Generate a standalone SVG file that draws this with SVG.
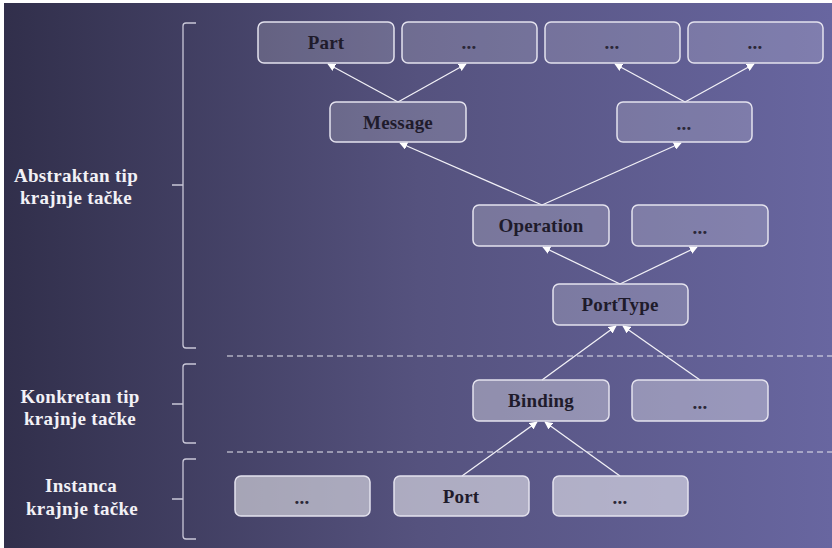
<svg xmlns="http://www.w3.org/2000/svg" width="832" height="548" viewBox="0 0 832 548" font-family="Liberation Serif, Times New Roman, serif">
  <defs>
    <linearGradient id="bg" x1="0" y1="0" x2="1" y2="0">
      <stop offset="0" stop-color="#312f4b"/>
      <stop offset="0.5" stop-color="#55527e"/>
      <stop offset="1" stop-color="#6866a0"/>
    </linearGradient>
    <marker id="arrow" viewBox="0 0 10 10" refX="9" refY="5" markerWidth="8" markerHeight="8" markerUnits="userSpaceOnUse" orient="auto">
      <path d="M0,0 L10,5 L0,10 Z" fill="#ffffff"/>
    </marker>
    <style>
      .node rect { stroke: #e4e2ee; stroke-width: 1.5; }
      .r1 rect { fill: #ffffff; fill-opacity: 0.16; }
      .r2 rect { fill: #ffffff; fill-opacity: 0.17; }
      .r3 rect { fill: #ffffff; fill-opacity: 0.2; }
      .r4 rect { fill: #ffffff; fill-opacity: 0.34; }
      .r5 rect { fill: #ffffff; fill-opacity: 0.52; }
      .node text { font-weight: bold; font-size: 19px; fill: #1f1b2b; text-anchor: middle; letter-spacing: 0.2px; }
      .node text.dots { fill: #2a2638; }
      .edge { stroke: #f2f1f7; stroke-width: 1.3; fill: none; marker-end: url(#arrow); }
      .sep { stroke: #e8e7f0; stroke-width: 1.2; stroke-dasharray: 6 4; }
      .brace { stroke: #c9c7d8; stroke-width: 1.3; fill: none; }
      .label { font-weight: bold; font-size: 19px; fill: #f2f1f6; text-anchor: middle; letter-spacing: 0.3px; }
    </style>
  </defs>

  <!-- background -->
  <rect x="0" y="0" width="832" height="548" fill="#ffffff"/>
  <rect x="4" y="3" width="828" height="545" fill="url(#bg)"/>

  <!-- layer separators -->
  <line class="sep" x1="227" y1="356" x2="832" y2="356"/>
  <line class="sep" x1="227" y1="452" x2="832" y2="452"/>

  <!-- layer brackets -->
  <path class="brace" d="M196,23 H186 Q183,23 183,26 V345 Q183,348 186,348 H196 M183,185 H172"/>
  <path class="brace" d="M196,364 H186 Q183,364 183,367 V440 Q183,443 186,443 H196 M183,404 H172"/>
  <path class="brace" d="M196,459 H186 Q183,459 183,462 V536 Q183,539 186,539 H196 M183,499 H172"/>

  <!-- layer labels -->
  <g font-family="Liberation Serif, serif">
    <text class="label" x="76" y="182">Abstraktan tip</text>
    <text class="label" x="76" y="204">krajnje tačke</text>
    <text class="label" x="80" y="403">Konkretan tip</text>
    <text class="label" x="80" y="425">krajnje tačke</text>
    <text class="label" x="81" y="492">Instanca</text>
    <text class="label" x="82" y="515">krajnje tačke</text>
  </g>

  <!-- connectors -->
  <g id="connectors">
    <line class="edge" x1="398" y1="102" x2="328" y2="64"/>
    <line class="edge" x1="398" y1="102" x2="466" y2="64"/>
    <line class="edge" x1="685" y1="102" x2="615" y2="64"/>
    <line class="edge" x1="685" y1="102" x2="754" y2="64"/>
    <line class="edge" x1="542" y1="205" x2="400" y2="143"/>
    <line class="edge" x1="542" y1="205" x2="681" y2="143"/>
    <line class="edge" x1="620" y1="284" x2="543" y2="247"/>
    <line class="edge" x1="620" y1="284" x2="697" y2="247"/>
    <line class="edge" x1="542" y1="380" x2="616" y2="326"/>
    <line class="edge" x1="700" y1="380" x2="623" y2="326"/>
    <line class="edge" x1="462" y1="476" x2="537" y2="422"/>
    <line class="edge" x1="620" y1="476" x2="545" y2="422"/>
  </g>

  <g font-family="Liberation Serif, serif">
  <!-- abstract endpoint type -->
  <g id="part" class="node r1">
    <rect x="258" y="22" width="136" height="41" rx="6"/>
    <text x="326" y="49">Part</text>
  </g>
  <g id="part-more-1" class="node r1">
    <rect x="402" y="22" width="135" height="41" rx="6"/>
    <text class="dots" x="469" y="49">...</text>
  </g>
  <g id="part-more-2" class="node r1">
    <rect x="545" y="22" width="135" height="41" rx="6"/>
    <text class="dots" x="612" y="49">...</text>
  </g>
  <g id="part-more-3" class="node r1">
    <rect x="688" y="22" width="135" height="41" rx="6"/>
    <text class="dots" x="755" y="49">...</text>
  </g>

  <g id="message" class="node r2">
    <rect x="330" y="102" width="136" height="40" rx="6"/>
    <text x="398" y="129">Message</text>
  </g>
  <g id="message-more" class="node r2">
    <rect x="617" y="102" width="135" height="40" rx="6"/>
    <text class="dots" x="684" y="130">...</text>
  </g>

  <g id="operation" class="node r3">
    <rect x="473" y="205" width="136" height="41" rx="6"/>
    <text x="541" y="232">Operation</text>
  </g>
  <g id="operation-more" class="node r3">
    <rect x="632" y="205" width="136" height="41" rx="6"/>
    <text class="dots" x="700" y="234">...</text>
  </g>

  <g id="porttype" class="node r3">
    <rect x="553" y="284" width="135" height="41" rx="6"/>
    <text x="620" y="311">PortType</text>
  </g>

  <!-- concrete endpoint type -->
  <g id="binding" class="node r4">
    <rect x="473" y="380" width="136" height="41" rx="6"/>
    <text x="541" y="407">Binding</text>
  </g>
  <g id="binding-more" class="node r4">
    <rect x="632" y="380" width="136" height="41" rx="6"/>
    <text class="dots" x="700" y="409">...</text>
  </g>

  <!-- endpoint instance -->
  <g id="port-more-1" class="node r5">
    <rect x="235" y="476" width="135" height="40" rx="6"/>
    <text class="dots" x="302" y="504">...</text>
  </g>
  <g id="port" class="node r5">
    <rect x="394" y="476" width="135" height="40" rx="6"/>
    <text x="461" y="503">Port</text>
  </g>
  <g id="port-more-2" class="node r5">
    <rect x="553" y="476" width="135" height="40" rx="6"/>
    <text class="dots" x="620" y="504">...</text>
  </g>
  </g>
</svg>
